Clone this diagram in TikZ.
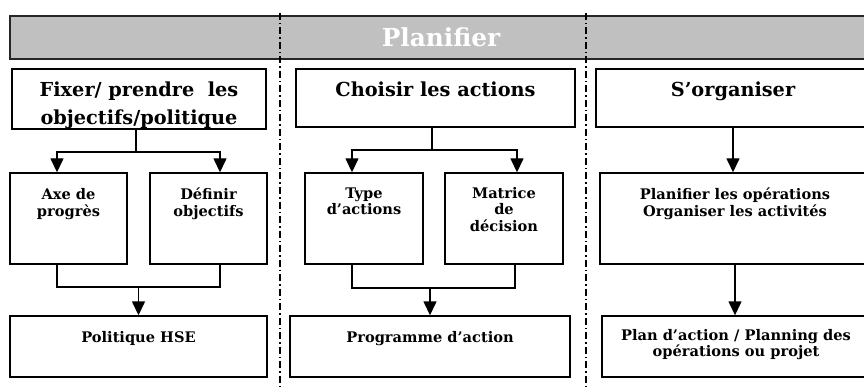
\documentclass[tikz,border=0pt]{standalone}
\usepackage{fontspec}
\setmainfont{DejaVu Serif}
\usetikzlibrary{arrows.meta}
\definecolor{banner}{HTML}{C0C0C0}
\newcommand\mlines[1]{\begin{tabular}[t]{@{}c@{}}#1\end{tabular}}
\begin{document}
\begin{tikzpicture}[x=1pt,y=-1pt,
  box/.style={draw=black, line width=1.4pt, rectangle, inner sep=0pt},
  ln/.style={draw=black, line width=1.4pt},
  arr/.style={ln, -{Triangle[width=13pt,length=14pt]}},
  sep/.style={draw=black, line width=1.5pt, dash pattern=on 7pt off 3pt on 1.5pt off 3pt},
  big/.style={font=\fontsize{19.3}{28}\selectfont\bfseries, anchor=base, inner sep=0pt},
  small/.style={font=\fontsize{14.6}{16.8}\selectfont\bfseries, anchor=base, inner sep=0pt}]
\useasboundingbox (0,0) rectangle (864,390);
\begin{scope}
\clip (0,0) rectangle (864,390);
% banner
\node[box, fill=banner, draw=black!85, minimum width=860pt, minimum height=43pt] (ban) at (440,37.5) {};
\node[font=\fontsize{24.8}{28}\selectfont\bfseries, text=white, anchor=base, inner sep=0pt] (title) at (441,47) {Planifier};
% top boxes
\node[box, minimum width=254pt, minimum height=60pt] (At) at (139,99) {};
\node[box, minimum width=279pt, minimum height=58pt] (Bt) at (435.5,98) {};
\node[box, minimum width=274pt, minimum height=58pt] (Ct) at (733,98) {};
% middle boxes
\node[box, minimum width=117pt, minimum height=91pt] (A1) at (68.5,218.5) {};
\node[box, minimum width=117pt, minimum height=91pt] (A2) at (208.5,218.5) {};
\node[box, minimum width=118pt, minimum height=91pt] (B1) at (364,218.5) {};
\node[box, minimum width=118pt, minimum height=91pt] (B2) at (504,218.5) {};
\node[box, minimum width=270pt, minimum height=91pt] (C1) at (735,218.5) {};
% bottom boxes
\node[box, minimum width=257pt, minimum height=61pt] (Ab) at (138.5,346.5) {};
\node[box, minimum width=280pt, minimum height=61pt] (Bb) at (430,346.5) {};
\node[box, minimum width=268pt, minimum height=61pt] (Cb) at (736,346.5) {};
% texts
\node[big] (tAt) at (139,97) {\mlines{Fixer/ prendre~ les\\objectifs/politique}};
\node[big] (tBt) at (435.5,97) {Choisir les actions};
\node[big] (tCt) at (733,97) {S’organiser};
\node[small] (tA1) at (68.5,200) {\mlines{Axe de\\progrès}};
\node[small] (tA2) at (208.5,200) {\mlines{Définir\\objectifs}};
\node[small] (tB1) at (364,198) {\mlines{Type\\d’actions}};
\node[small] (tB2) at (504,198) {\mlines{Matrice\\de\\décision}};
\node[small] (tC1) at (735,200) {\mlines{Planifier les opérations\\Organiser les activités}};
\node[small] (tAb) at (138.5,342) {Politique HSE};
\node[small] (tBb) at (430,342) {Programme d’action};
\node[small] (tCb) at (736,340) {\mlines{Plan d’action / Planning des\\opérations ou projet}};
% connectors column A
\coordinate (jA) at (136,152);
\draw[ln] (At.south -| jA) -- (jA);
\draw[arr] (jA) -| ([xshift=-11.5pt]A1.north);
\draw[arr] (jA) -| ([xshift=11.5pt]A2.north);
\coordinate (kA) at (0,287);
\draw[ln] ([xshift=-11.5pt]A1.south) |- ([xshift=11.5pt]A2.south |- kA) -- ([xshift=11.5pt]A2.south);
\draw[arr] (Ab.north |- kA) -- (Ab.north);
% connectors column B
\coordinate (jB) at (432,150);
\draw[ln] (Bt.south -| jB) -- (jB);
\draw[arr] (jB) -| ([xshift=-12pt]B1.north);
\draw[arr] (jB) -| ([xshift=13pt]B2.north);
\coordinate (kB) at (0,288);
\draw[ln] ([xshift=-12pt]B1.south) |- ([xshift=11pt]B2.south |- kB) -- ([xshift=11pt]B2.south);
\draw[arr] (Bb.north |- kB) -- (Bb.north);
% connectors column C
\draw[arr] (Ct.south) -- (Ct.south |- C1.north);
\draw[arr] (C1.south) -- (C1.south |- Cb.north);
% separators
\coordinate (s1t) at (280,13);
\coordinate (s1b) at (280,392);
\coordinate (s2t) at (586,13);
\coordinate (s2b) at (586,392);
\draw[sep] (s1t) -- (s1b);
\draw[sep] (s2t) -- (s2b);
\end{scope}
\end{tikzpicture}
\end{document}
